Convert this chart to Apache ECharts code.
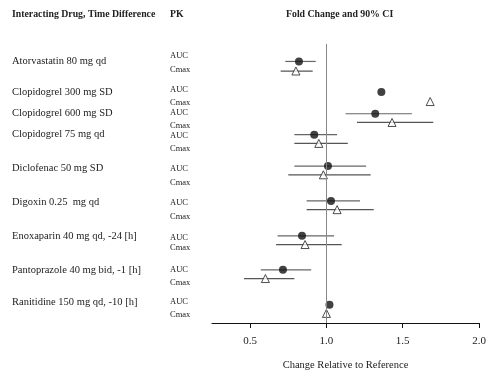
<!DOCTYPE html>
<html>
<head>
<meta charset="utf-8">
<script src="https://cdn.jsdelivr.net/npm/echarts@6/dist/echarts.min.js"></script>
<style>html,body{margin:0;padding:0;background:#fff}#c{width:500px;height:378px}</style>
</head>
<body>
<div id="c"></div>
<script>
// ---- data ----
const drugs = ['Atorvastatin 80 mg qd','Clopidogrel 300 mg SD','Clopidogrel 600 mg SD','Clopidogrel 75 mg qd','Diclofenac 50 mg SD','Digoxin 0.25  mg qd','Enoxaparin 40 mg qd, -24 [h]','Pantoprazole 40 mg bid, -1 [h]','Ranitidine 150 mg qd, -10 [h]'];
// row slots on the vertical (ordinal) scale
const aucRow  = [2, 5.5, 8, 10.4, 14, 18, 22, 25.9, 29.9];
const cmaxRow = [3.1, 6.6, 9, 11.4, 15, 19, 23, 26.9, 30.9];
const drugRow = [1.95, 5.5, 7.9, 10.3, 14.2, 18.2, 22.1, 25.9, 29.6];
const aucLabelRow  = [1.4, 5.3, 7.9, 10.5, 14.3, 18.2, 22.2, 25.9, 29.6];
const cmaxLabelRow = [3.0, 6.7, 9.4, 12.0, 15.9, 19.8, 23.4, 27.4, 31.0];
const aucVal  = [0.82, 1.36, 1.32, 0.92, 1.01, 1.03, 0.84, 0.715, 1.02];
const aucLow  = [0.73, null, 1.125, 0.79, 0.79, 0.87, 0.68, 0.57, null];
const aucHigh = [0.93, null, 1.56, 1.07, 1.26, 1.22, 1.05, 0.90, null];
const cmaxVal  = [0.80, 1.68, 1.43, 0.95, 0.98, 1.07, 0.86, 0.60, 1.00];
const cmaxLow  = [0.70, null, 1.20, 0.79, 0.75, 0.87, 0.67, 0.46, null];
const cmaxHigh = [0.91, null, 1.70, 1.14, 1.29, 1.31, 1.10, 0.79, null];
const xTicks = [0.5, 1.0, 1.5, 2.0];

const FONT = 'Liberation Serif';
const chart = echarts.init(document.getElementById('c'), null, {renderer: 'canvas'});

function ciData(lo, hi, rows) {
  const out = [];
  lo.forEach((l, i) => { if (l != null) out.push([l, hi[i], rows[i]]); });
  return out;
}
function ciSeries(name, data, color) {
  return {
    name: name, type: 'custom', silent: true, z: 2,
    renderItem: function (params, api) {
      const p1 = api.coord([api.value(0), api.value(2)]);
      const p2 = api.coord([api.value(1), api.value(2)]);
      return {type: 'line', shape: {x1: p1[0], y1: p1[1], x2: p2[0], y2: p2[1]},
              style: {stroke: color, lineWidth: 1.2}};
    },
    encode: {x: [0, 1], y: 2},
    data: data
  };
}

const yBase = {
  type: 'value', inverse: true, min: 0, max: 32, position: 'left',
  axisLine: {show: false}, axisTick: {show: false}, splitLine: {show: false}
};

chart.setOption({
  animation: false,
  grid: {left: 212, right: 21, top: 44, bottom: 55},
  xAxis: {
    type: 'value', min: 0.25, max: 2.0, position: 'bottom',
    axisLine: {onZero: false, lineStyle: {color: '#111', width: 1}},
    axisTick: {customValues: xTicks, length: 5, lineStyle: {color: '#111'}},
    axisLabel: {customValues: xTicks, formatter: v => v.toFixed(1), margin: 13,
                fontFamily: FONT, fontSize: 11, color: '#222'},
    splitLine: {show: false},
    name: 'Change Relative to Reference', nameLocation: 'middle', nameGap: 37,
    nameTextStyle: {fontFamily: FONT, fontSize: 10.5, color: '#222'}
  },
  yAxis: [
    Object.assign({}, yBase, {
      axisLabel: {customValues: drugRow, formatter: (v, i) => drugs[drugRow.indexOf(v)],
                  align: 'left', margin: 200, fontFamily: FONT, fontSize: 10.5, color: '#222'}
    }),
    Object.assign({}, yBase, {
      axisLabel: {customValues: aucLabelRow.concat(cmaxLabelRow),
                  formatter: v => (aucLabelRow.indexOf(v) >= 0 ? 'AUC' : 'Cmax'),
                  align: 'left', margin: 42, fontFamily: FONT, fontSize: 8.5, color: '#222'}
    })
  ],
  graphic: [
    {type: 'text', left: 12, top: 9, style: {text: 'Interacting Drug, Time Difference', font: 'bold 9.8px "Liberation Serif"', fill: '#222'}},
    {type: 'text', left: 170, top: 9, style: {text: 'PK', font: 'bold 9.8px "Liberation Serif"', fill: '#222'}},
    {type: 'text', left: 286, top: 9, style: {text: 'Fold Change and 90% CI', font: 'bold 9.8px "Liberation Serif"', fill: '#222'}}
  ],
  series: [
    ciSeries('AUC CI', ciData(aucLow, aucHigh, aucRow), '#666'),
    ciSeries('Cmax CI', ciData(cmaxLow, cmaxHigh, cmaxRow), '#555'),
    {
      name: 'AUC', type: 'scatter', symbol: 'circle', symbolSize: 8, z: 4,
      itemStyle: {color: '#111'},
      data: aucVal.map((v, i) => [v, aucRow[i]]),
      markLine: {silent: true, symbol: 'none', label: {show: false},
                 lineStyle: {color: '#888', width: 1, type: 'solid'},
                 data: [{xAxis: 1}]}
    },
    {
      name: 'Cmax', type: 'scatter', symbol: 'triangle', symbolSize: 8, z: 4,
      itemStyle: {color: '#fff', borderColor: '#222', borderWidth: 1},
      data: cmaxVal.map((v, i) => [v, cmaxRow[i]])
    }
  ]
});
</script>
</body>
</html>
